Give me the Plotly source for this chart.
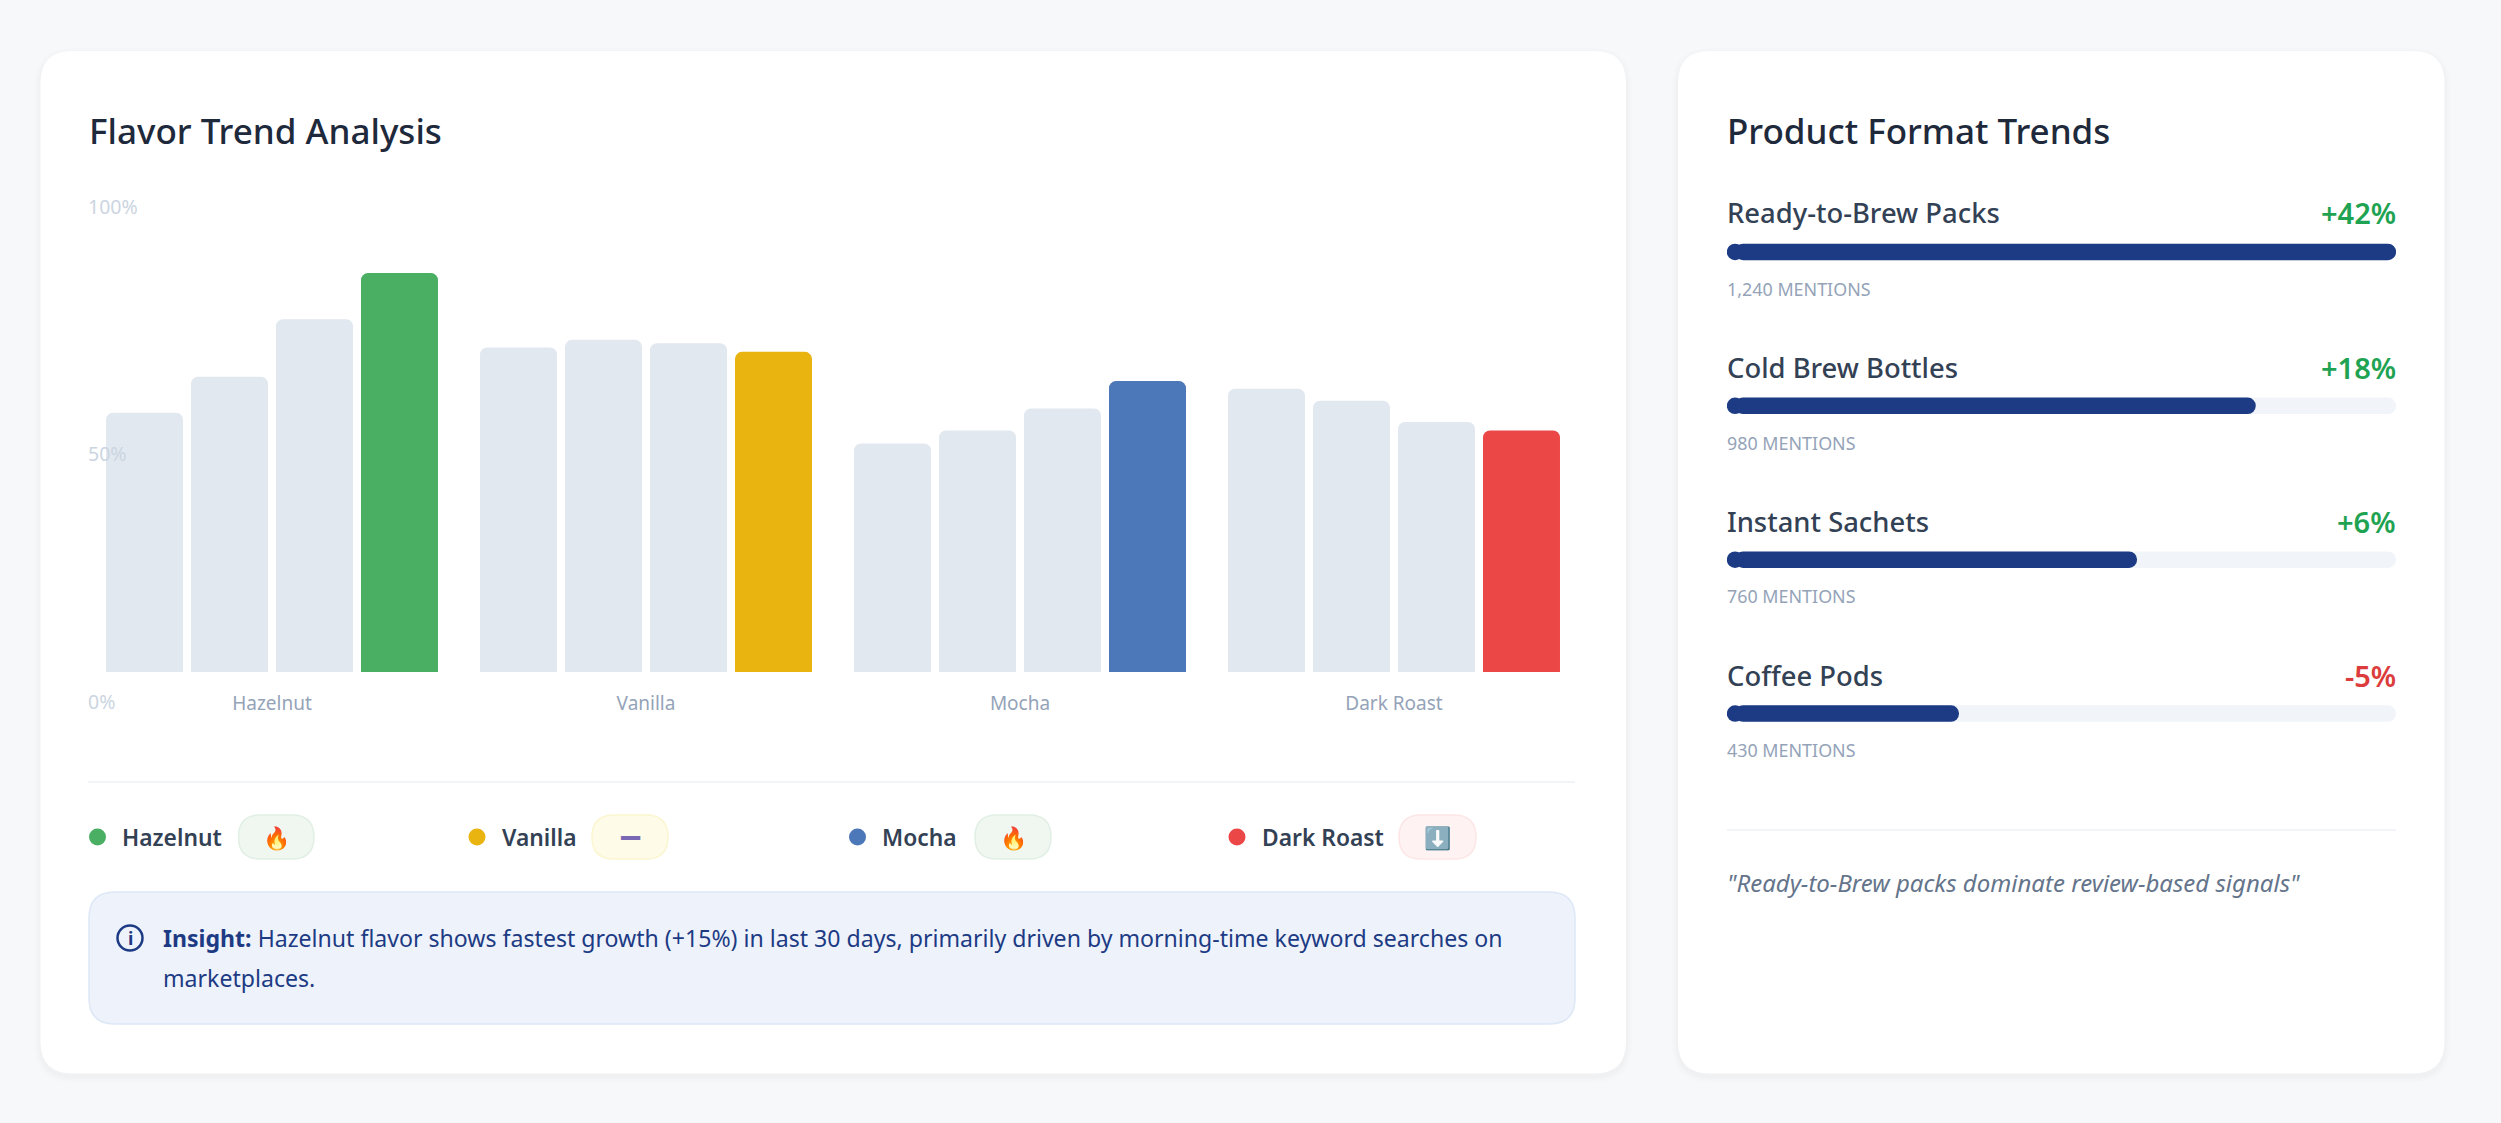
import plotly.graph_objects as go

W, H = 2501, 1123
FONT = "Noto Sans"

# flavor chart values
flavors = ["Hazelnut", "Vanilla", "Mocha", "Dark Roast"]
period_1 = [54.0, 67.6, 47.6, 59.0]
period_2 = [61.5, 69.2, 50.3, 56.5]
period_3 = [73.5, 68.5, 54.9, 52.1]
period_4 = [83.1, 66.7, 60.6, 50.3]
flavor_colors = ["#4AAF63", "#E9B310", "#4C77B9", "#EC4747"]
y_tick_vals = [0, 50, 100]
y_tick_text = ["0%", "50%", "100%"]

trend_badges = ["🔥", "➖\ufe0e", "🔥", "⬇️"]

# product format panel
formats = ["Ready-to-Brew Packs", "Cold Brew Bottles", "Instant Sachets", "Coffee Pods"]
mentions = [1240, 980, 760, 430]
changes = ["+42%", "+18%", "+6%", "-5%"]

insight_lines = [
    "<b>Insight:</b> Hazelnut flavor shows fastest growth (+15%) in last 30 days, primarily driven by morning-time keyword searches on",
    "marketplaces.",
]
quote = "\"Ready-to-Brew packs dominate review-based signals\""

GREY_BAR = "#E2E8F0"
NAVY = "#1D3B84"


def px(x):
    return x / W


def py(y):
    return 1 - y / H


def rrect(x0, y0, x1, y1, r, fill, line=None, lw=1):
    # rounded box in page pixels, y going down
    p = (f"M{px(x0 + r)},{py(y0)} L{px(x1 - r)},{py(y0)} Q{px(x1)},{py(y0)} {px(x1)},{py(y0 + r)} "
         f"L{px(x1)},{py(y1 - r)} Q{px(x1)},{py(y1)} {px(x1 - r)},{py(y1)} "
         f"L{px(x0 + r)},{py(y1)} Q{px(x0)},{py(y1)} {px(x0)},{py(y1 - r)} "
         f"L{px(x0)},{py(y0 + r)} Q{px(x0)},{py(y0)} {px(x0 + r)},{py(y0)} Z")
    return dict(type="path", path=p, xref="paper", yref="paper", fillcolor=fill, layer="below",
                line=dict(color=line or fill, width=lw if line else 0))


def hline(x0, x1, y, color="#F1F5F9"):
    return dict(type="line", xref="paper", yref="paper", x0=px(x0), x1=px(x1), y0=py(y), y1=py(y),
                layer="below", line=dict(color=color, width=2))


def circle(cx, cy, r, fill, line=None, lw=0):
    return dict(type="circle", xref="paper", yref="paper", x0=px(cx - r), x1=px(cx + r),
                y0=py(cy - r), y1=py(cy + r), fillcolor=fill, line=dict(color=line or fill, width=lw))


def label(x, y, text, size, color, anchor="left", weight=400, style="normal", family=FONT):
    return dict(x=px(x), y=py(y), xref="paper", yref="paper", text=text, showarrow=False,
                xanchor=anchor, yanchor="middle", align=anchor, borderpad=0, borderwidth=0,
                font=dict(family=family, size=size, color=color, weight=weight, style=style))


fig = go.Figure()

# flavor bars, the latest period carries the flavor color
for i, vals in enumerate([period_1, period_2, period_3, period_4]):
    fig.add_trace(go.Bar(x=flavors, y=vals, xaxis="x", yaxis="y", showlegend=False,
                         marker=dict(color=flavor_colors if i == 3 else GREY_BAR,
                                     line=dict(width=0), cornerradius=7)))

# empty trace so the percent axis gets drawn
fig.add_trace(go.Scatter(x=flavors[:1], y=y_tick_vals[:1], xaxis="x", yaxis="y2", mode="markers",
                         opacity=0, showlegend=False, hoverinfo="skip"))

# format bars start a little right of zero so the round cap fits on the left
bar_cap = 15
fig.add_trace(go.Bar(y=formats, x=[max(mentions) - bar_cap] * 4, base=bar_cap, orientation="h",
                     xaxis="x2", yaxis="y3", width=0.107, offsetgroup="f", showlegend=False,
                     marker=dict(color="#F1F5F9", line=dict(width=0), cornerradius=8)))
fig.add_trace(go.Bar(y=formats, x=[m - bar_cap for m in mentions], base=bar_cap, orientation="h",
                     xaxis="x2", yaxis="y3", width=0.107, offsetgroup="f", showlegend=False,
                     marker=dict(color=NAVY, line=dict(width=0), cornerradius=8)))
fig.add_trace(go.Scatter(y=formats, x=[bar_cap] * 4, mode="markers", xaxis="x2", yaxis="y3",
                         showlegend=False, marker=dict(color=NAVY, size=16.5, line=dict(width=0))))

shapes = []
for x0, x1 in [(40.5, 1626), (1678, 2444.5)]:
    for grow, alpha in [(6, 0.006), (4, 0.008), (2, 0.012)]:
        shapes.append(rrect(x0 - grow, 51 - grow + 3, x1 + grow, 1073.5 + grow + 3, 32 + grow,
                            f"rgba(15,23,42,{alpha})"))
    shapes.append(rrect(x0, 51, x1, 1073.5, 32, "#FFFFFF"))
shapes.append(hline(88, 1575, 782))
shapes.append(hline(1727, 2396, 830))

# legend row
dot_x = [97.5, 477, 857.5, 1237]
text_x = [122, 502, 882, 1262]
pill_x = [(238.5, 314), (592, 668), (975, 1051), (1399, 1476)]
pill_fill = ["#F0F7F1", "#FEFCE8", "#F0F7F1", "#FEF2F2"]
pill_line = ["#E1EFE4", "#FBF6D0", "#E1EFE4", "#FDE6E6"]
for i in range(4):
    shapes.append(circle(dot_x[i], 837, 8.5, flavor_colors[i]))
    shapes.append(rrect(pill_x[i][0], 815, pill_x[i][1], 859, 22, pill_fill[i], pill_line[i], 1.5))

# insight box
shapes.append(rrect(89, 892, 1575, 1024, 26, "#EEF3FB", "#DDE7F6", 1.5))
shapes.append(circle(130, 938, 12.5, "rgba(0,0,0,0)", NAVY, 2.5))

ann = [
    label(89, 130.5, "Flavor Trend Analysis", 35, "#1E293B", weight=500),
    label(1727, 130.5, "Product Format Trends", 35, "#1E293B", weight=500),
    label(130, 938, "i", 18, NAVY, anchor="center", weight=700),
    label(162.5, 938, insight_lines[0], 23.1, NAVY),
    label(162.5, 978, insight_lines[1], 23.1, NAVY),
    label(1727, 882, quote, 24, "#64748B", style="italic"),
]
for i in range(4):
    ann.append(label(text_x[i], 837, flavors[i], 22.8, "#334155", weight=600))
    if i == 1:
        ann.append(label(sum(pill_x[i]) / 2, 837, trend_badges[i], 28, "#7B68B5", anchor="center",
                         family="DejaVu Sans"))
    else:
        ann.append(label(sum(pill_x[i]) / 2, 837, trend_badges[i], 22, "#334155", anchor="center"))

row_y = [213, 368, 521, 675]
row_m = [289, 443, 596, 750]
for i in range(4):
    ann.append(label(1727, row_y[i], formats[i], 27.4, "#334155", weight=500))
    ann.append(label(2396, row_y[i], changes[i], 29, "#1FA352" if changes[i][0] == "+" else "#DC3C3C",
                     anchor="right", weight=600))
    ann.append(label(1727, row_m[i], f"{mentions[i]:,} MENTIONS", 17.9, "#94A3B8"))

fig.update_layout(
    width=W, height=H, margin=dict(l=0, r=0, t=0, b=0),
    paper_bgcolor="#F7F8FA", plot_bgcolor="rgba(0,0,0,0)",
    barmode="group", bargap=0.091, bargroupgap=0.094,
    font=dict(family=FONT),
    shapes=shapes, annotations=ann,
    xaxis=dict(domain=[px(85), px(1581)], anchor="y", type="category", range=[-0.5, 3.5],
               showgrid=False, zeroline=False, showline=False, ticks="", ticklabelstandoff=18,
               tickfont=dict(family=FONT, size=19, color="#94A3B8")),
    yaxis=dict(domain=[py(672), py(192)], anchor="x", range=[0, 100], visible=False),
    # range runs past 0 and 100 so the inside labels at both ends are not dropped
    yaxis2=dict(domain=[py(702 + 4.95 * 6), py(207 - 4.95 * 6)], anchor="x", range=[-6, 106],
                tickvals=y_tick_vals, ticktext=y_tick_text, ticklabelposition="inside",
                showgrid=False, zeroline=False, showline=False, ticks="",
                tickfont=dict(family=FONT, size=19.5, color="#CBD5E1")),
    xaxis2=dict(domain=[px(1727), px(2396)], anchor="y3", range=[0, max(mentions)], visible=False),
    yaxis3=dict(domain=[py(790.5), py(175)], anchor="x2", type="category", range=[3.5, -0.5],
                visible=False),
)

fig.write_html("out.html", post_script="document.body.style.margin='0'",
               config=dict(displayModeBar=False))
